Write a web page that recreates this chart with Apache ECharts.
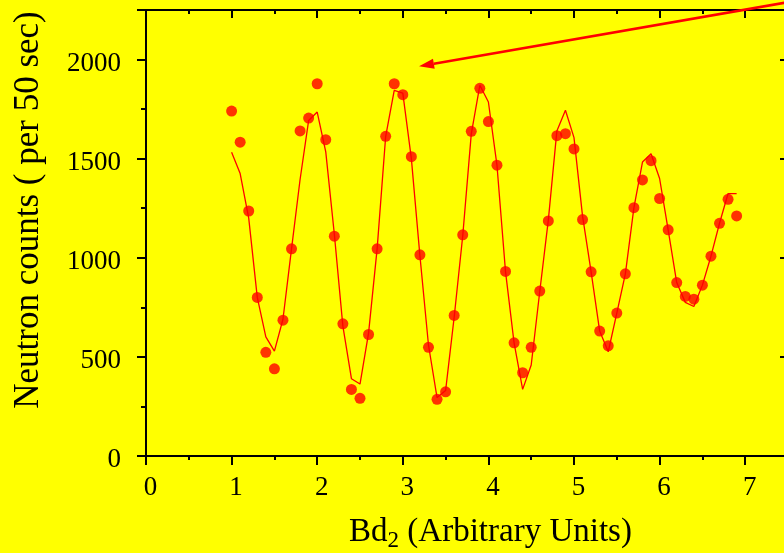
<!DOCTYPE html>
<html>
<head>
<meta charset="utf-8">
<script src="https://cdn.jsdelivr.net/npm/echarts@6/dist/echarts.min.js"></script>
<style>
html,body{margin:0;padding:0;background:#ffff00;}
#chart{width:784px;height:553px;}
</style>
</head>
<body>
<div id="chart"></div>
<script>
// Bd2 positions (arbitrary units)
const xValues = [1.0,1.1,1.2,1.3,1.4,1.5,1.6,1.7,1.8,1.9,
                 2.0,2.1,2.2,2.3,2.4,2.5,2.6,2.7,2.8,2.9,
                 3.0,3.1,3.2,3.3,3.4,3.5,3.6,3.7,3.8,3.9,
                 4.0,4.1,4.2,4.3,4.4,4.5,4.6,4.7,4.8,4.9,
                 5.0,5.1,5.2,5.3,5.4,5.5,5.6,5.7,5.8,5.9,
                 6.0,6.1,6.2,6.3,6.4,6.5,6.6,6.7,6.8,6.9];
// measured neutron counts (per 50 sec)
const measuredCounts = [1740,1583,1236,800,523,440,685,1045,1640,1705,
                        1878,1596,1109,667,336,291,613,1045,1613,1878,
                        1823,1510,1015,548,286,324,709,1116,1638,1855,
                        1687,1467,931,571,420,548,832,1186,1616,1626,
                        1549,1193,929,630,556,721,919,1253,1393,1490,
                        1299,1141,875,805,791,862,1008,1174,1295,1211];
// fitted curve
const fitCounts = [1532,1425,1200,800,601,529,690,1045,1395,1693,
                   1735,1534,1120,655,390,363,620,1045,1613,1845,
                   1831,1500,1010,560,295,330,700,1110,1625,1870,
                   1786,1467,930,571,336,459,830,1190,1640,1744,
                   1606,1210,929,630,526,721,919,1253,1483,1525,
                   1400,1141,875,775,754,862,1008,1174,1324,1324];
// axis ranges / ticks
const xMin = 0, xMax = 7.5, xInterval = 1;
const yMin = 0, yMax = 2250, yInterval = 500;
// annotation arrow (data coordinates)
const arrowFrom = [7.6, 2297];
const arrowTo = [3.19, 1966];

const FONT = 'Liberation Serif';
const chart = echarts.init(document.getElementById('chart'), null, {renderer: 'canvas'});

const axisCommon = {
  axisLine: {show: true, onZero: false, lineStyle: {color: '#000', width: 2}},
  splitLine: {show: false},
  minorSplitLine: {show: false}
};

const option = {
  backgroundColor: '#ffff00',
  animation: false,
  grid: {left: 146, top: 10, width: 642, height: 446, containLabel: false, outerBoundsMode: 'none'},
  xAxis: [
    Object.assign({}, axisCommon, {
      type: 'value', position: 'bottom', min: xMin, max: xMax, interval: xInterval,
      axisTick: {show: true, inside: false, length: 9, lineStyle: {color: '#000', width: 2}},
      minorTick: {show: true, splitNumber: 2, length: 4, lineStyle: {color: '#000', width: 2}},
      axisLabel: {color: '#000', fontFamily: FONT, fontSize: 27, margin: 18, padding: [0,0,0,9],
        formatter: v => (v % 1 === 0 ? String(v) : '')},
      name: '{a|Bd}{s|2}{a| (Arbitrary Units)}',
      nameLocation: 'middle', nameGap: 57,
      nameTextStyle: {color: '#000', fontFamily: FONT, padding: [0,0,0,47],
        rich: {a: {fontFamily: FONT, fontSize: 33, color: '#000'},
               s: {fontFamily: FONT, fontSize: 23, color: '#000', padding: [16,0,0,0]}}}
    }),
    Object.assign({}, axisCommon, {
      type: 'value', position: 'top', min: xMin, max: xMax, interval: xInterval,
      axisTick: {show: true, inside: true, length: 8, lineStyle: {color: '#000', width: 2}},
      minorTick: {show: true, splitNumber: 2, length: 4, lineStyle: {color: '#000', width: 2}},
      axisLabel: {show: false}
    })
  ],
  yAxis: [
    Object.assign({}, axisCommon, {
      type: 'value', position: 'left', min: yMin, max: yMax, interval: yInterval,
      axisTick: {show: true, inside: false, length: 9, lineStyle: {color: '#000', width: 2}},
      minorTick: {show: true, splitNumber: 2, length: 5, lineStyle: {color: '#000', width: 2}},
      axisLabel: {color: '#000', fontFamily: FONT, fontSize: 27, margin: 25,
        formatter: v => (v % 500 === 0 ? '{v|' + v + '}' : ''),
        rich: {v: {fontFamily: FONT, fontSize: 27, color: '#000', padding: [8,0,0,0]}}},
      name: 'Neutron counts ( per 50 sec)',
      nameLocation: 'middle', nameGap: 100,
      nameTextStyle: {color: '#000', fontFamily: FONT, fontSize: 35, padding: [0,0,0,46]}
    }),
    Object.assign({}, axisCommon, {
      type: 'value', position: 'right', min: yMin, max: yMax, interval: yInterval,
      axisTick: {show: true, inside: true, length: 8, lineStyle: {color: '#000', width: 2}},
      minorTick: {show: true, splitNumber: 2, length: 4, lineStyle: {color: '#000', width: 2}},
      axisLabel: {show: false}
    })
  ],
  series: [
    {
      name: 'fit', type: 'line', xAxisIndex: 0, yAxisIndex: 0,
      data: xValues.map((x, i) => [x, fitCounts[i]]),
      showSymbol: false, symbol: 'none',
      lineStyle: {color: '#ff0000', width: 1.3}, z: 2, clip: false
    },
    {
      name: 'counts', type: 'scatter', xAxisIndex: 0, yAxisIndex: 0,
      data: xValues.map((x, i) => [x, measuredCounts[i]]),
      symbol: 'circle', symbolSize: 11,
      itemStyle: {color: '#ff0000'}, z: 3
    }
  ]
};
chart.setOption(option);

// annotation arrow placed through the axis scales
const p0 = chart.convertToPixel({xAxisIndex: 0, yAxisIndex: 0}, arrowFrom);
const p1 = chart.convertToPixel({xAxisIndex: 0, yAxisIndex: 0}, arrowTo);
const ang = Math.atan2(p1[1] - p0[1], p1[0] - p0[0]);
const headLen = 15, headHalf = 5;
const bx = p1[0] - headLen * Math.cos(ang), by = p1[1] - headLen * Math.sin(ang);
const nx = -Math.sin(ang), ny = Math.cos(ang);
chart.setOption({
  graphic: [
    {type: 'line', z: 10, shape: {x1: p0[0], y1: p0[1], x2: bx, y2: by},
     style: {stroke: '#ff0000', lineWidth: 2.5}},
    {type: 'polygon', z: 10, shape: {points: [[p1[0], p1[1]],
       [bx + nx * headHalf, by + ny * headHalf], [bx - nx * headHalf, by - ny * headHalf]]},
     style: {fill: '#ff0000'}}
  ]
});
</script>
</body>
</html>
